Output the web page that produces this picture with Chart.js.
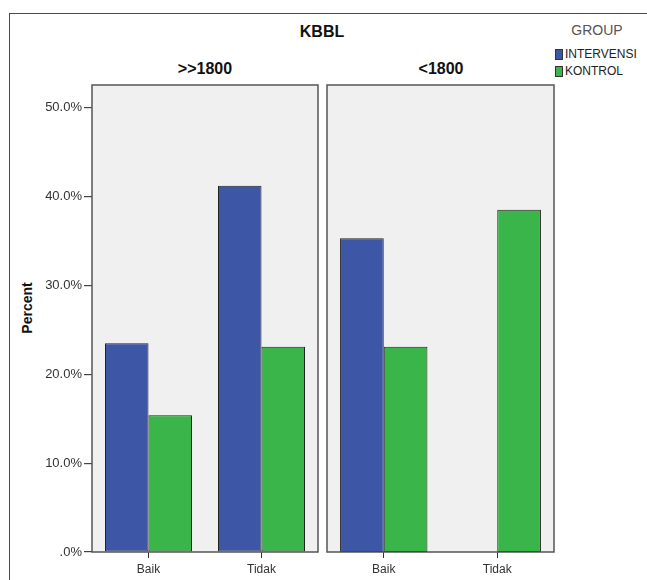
<!DOCTYPE html>
<html>
<head>
<meta charset="utf-8">
<script src="https://cdn.jsdelivr.net/npm/chart.js@4.4.1/dist/chart.umd.min.js"></script>
<style>
  body { margin: 0; background: #fff; font-family: Arial, "Liberation Sans", sans-serif; }
  #wrap { position: relative; width: 647px; height: 580px; overflow: hidden; }
  .frame { position: absolute; left: 9px; top: 13px; width: 700px; height: 700px; border: 1px solid #4a4a4a; }
  .txt { position: absolute; white-space: nowrap; line-height: 1; }
  .bold { font-weight: bold; color: #111; }
  canvas { position: absolute; top: 0; }
  .sw { position: absolute; width: 6px; height: 9px; border: 1px solid #333; }
</style>
</head>
<body>
<div id="wrap">
  <div class="frame"></div>
  <div class="txt bold" style="left:272px;width:100px;text-align:center;top:24px;font-size:16px;">KBBL</div>
  <div class="txt" style="left:547px;width:100px;text-align:center;top:23px;font-size:14px;color:#555;">GROUP</div>
  <div id="p1" class="txt bold" style="left:125px;width:160px;text-align:center;top:61px;font-size:16px;"></div>
  <div id="p2" class="txt bold" style="left:361px;width:160px;text-align:center;top:61px;font-size:16px;"></div>
  <div class="txt bold" style="left:-23px;width:100px;text-align:center;top:301px;font-size:14px;transform:rotate(-90deg);">Percent</div>
  <div id="legend"></div>
  <canvas id="c1" width="320" height="580" style="left:0px;"></canvas>
  <canvas id="c2" width="231" height="580" style="left:325px;"></canvas>
</div>
<script>
const categories = ['Baik', 'Tidak'];
const panelNames = ['>>1800', '<1800'];
const groupNames = ['INTERVENSI', 'KONTROL'];

// percent per panel
const intervensiAtas = [23.5, 41.2];
const kontrolAtas = [15.4, 23.1];
const intervensiBawah = [35.3, 0];
const kontrolBawah = [23.1, 38.5];

const yTicks = [0, 10, 20, 30, 40, 50];
const yTickLabels = ['.0%', '10.0%', '20.0%', '30.0%', '40.0%', '50.0%'];

const groupColors = ['#3d56a6', '#3ab54a'];

document.getElementById('p1').textContent = panelNames[0];
document.getElementById('p2').textContent = panelNames[1];

// legend
const legend = document.getElementById('legend');
groupNames.forEach((name, i) => {
  const top = 49 + i * 17;
  legend.insertAdjacentHTML('beforeend',
    '<div class="sw" style="left:555px;top:' + top + 'px;background:' + groupColors[i] + '"></div>' +
    '<div class="txt" style="left:565px;top:' + (top - 1) + 'px;font-size:12px;color:#222;">' + name + '</div>');
});

// grey panel background and frame around plot area
const panelPlugin = {
  id: 'panel',
  beforeDraw(chart) {
    const a = chart.chartArea;
    const ctx = chart.ctx;
    ctx.save();
    ctx.fillStyle = '#f0f0f0';
    ctx.fillRect(a.left, a.top, a.right - a.left, a.bottom - a.top);
    ctx.restore();
  },
  afterDraw(chart) {
    const a = chart.chartArea;
    const ctx = chart.ctx;
    ctx.save();
    ctx.strokeStyle = '#555';
    ctx.lineWidth = 1.5;
    ctx.strokeRect(a.left, a.top, a.right - a.left, a.bottom - a.top);
    ctx.restore();
  }
};

function makePanel(id, intervensi, kontrol, showY) {
  const ctx = document.getElementById(id).getContext('2d');
  return new Chart(ctx, {
    type: 'bar',
    data: {
      labels: categories,
      datasets: [
        { label: groupNames[0], data: intervensi, backgroundColor: groupColors[0] },
        { label: groupNames[1], data: kontrol, backgroundColor: groupColors[1] }
      ]
    },
    options: {
      responsive: false,
      animation: false,
      events: [],
      categoryPercentage: 0.77,
      barPercentage: 1.0,
      datasets: {
        bar: {
          borderColor: '#222',
          borderWidth: c => (c.raw === 0 ? 0 : 1),
          borderSkipped: false
        }
      },
      layout: { padding: { top: 85, right: 2, left: showY ? 0 : 2, bottom: 0 } },
      plugins: { legend: { display: false }, tooltip: { enabled: false } },
      scales: {
        x: {
          offset: true,
          border: { display: false },
          grid: { drawOnChartArea: false, offset: false, tickLength: 6, color: '#333', lineWidth: 1 },
          ticks: { padding: 4, color: '#333', font: { family: 'Arial, "Liberation Sans", sans-serif', size: 12 } },
          afterFit: s => { s.height = 28; }
        },
        y: {
          display: showY,
          min: 0,
          max: 52.55,
          border: { display: false },
          grid: { drawOnChartArea: false, tickLength: 8, color: '#444', lineWidth: 1.2 },
          ticks: {
            padding: 2,
            color: '#333',
            font: { family: 'Arial, "Liberation Sans", sans-serif', size: 13 },
            callback: v => yTickLabels[yTicks.indexOf(v)]
          },
          afterBuildTicks: s => { s.ticks = yTicks.map(v => ({ value: v })); },
          afterFit: s => { s.width = showY ? 92 : 0; }
        }
      }
    },
    plugins: [panelPlugin]
  });
}

makePanel('c1', intervensiAtas, kontrolAtas, true);
makePanel('c2', intervensiBawah, kontrolBawah, false);
</script>
</body>
</html>
